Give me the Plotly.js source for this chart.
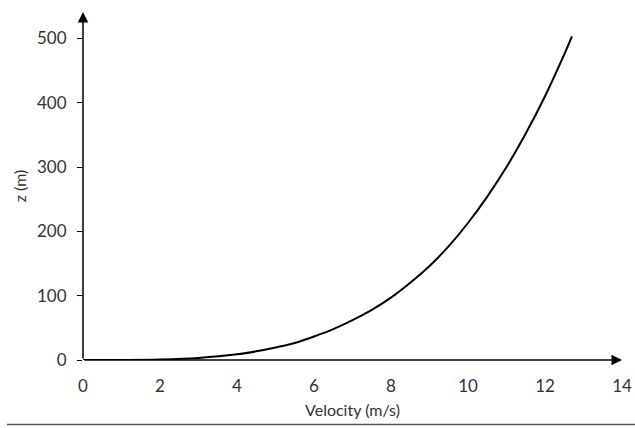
<!DOCTYPE html>
<html>
<head>
<meta charset="utf-8">
<script src="https://cdn.plot.ly/plotly-3.0.1.min.js"></script>
<style>html,body{margin:0;padding:0;background:#fff;}#chart{width:635px;height:428px;}</style>
</head>
<body>
<div id="chart"></div>
<script>
// Data
var velocity = [0, 1, 2, 3, 4, 4.5, 5, 5.5, 6, 6.5, 7, 7.5, 8, 8.5, 9, 9.5, 10, 10.5, 11, 11.5, 12, 12.5, 12.7];
var height = [0, 0.1, 0.8, 3.2, 8.8, 13.5, 19.5, 26.5, 36.5, 48, 62, 78, 97, 120, 146, 177, 213, 254, 300, 352, 410, 475, 503];
var xTicks = [0, 2, 4, 6, 8, 10, 12, 14];
var yTicks = [0, 100, 200, 300, 400, 500];
var xTitle = 'Velocity (m/s)';
var yTitle = 'z (m)';

var fontFam = 'Lato, "Open Sans", sans-serif';
var xMax = 14, yMax = 541;

var trace = {
  x: velocity, y: height, type: 'scatter', mode: 'lines',
  line: {color: '#000', width: 2, shape: 'spline', smoothing: 1},
  cliponaxis: false, hoverinfo: 'x+y'
};

var layout = {
  width: 635, height: 428,
  margin: {l: 83, r: 13, t: 12, b: 68},
  paper_bgcolor: '#fff', plot_bgcolor: '#fff',
  showlegend: false,
  font: {family: fontFam, size: 16, color: '#333'},
  xaxis: {
    range: [0, xMax], tickvals: xTicks, ticktext: xTicks.map(String),
    showgrid: false, zeroline: false, showline: false,
    ticks: 'outside', ticklen: 11, tickcolor: 'rgba(0,0,0,0)',
    tickfont: {family: fontFam, size: 17, color: '#333'},
    title: {text: xTitle, font: {family: fontFam, size: 16, color: '#333'}, standoff: 9},
    automargin: false, fixedrange: true
  },
  yaxis: {
    range: [0, yMax], tickvals: yTicks, ticktext: yTicks.map(String),
    showgrid: false, zeroline: false, showline: false,
    ticks: 'outside', ticklen: 5, tickwidth: 1, tickcolor: '#000',
    ticklabelstandoff: 7,
    tickfont: {family: fontFam, size: 17, color: '#333'},
    title: {text: yTitle, font: {family: fontFam, size: 16, color: '#333'}, standoff: 6},
    automargin: false, fixedrange: true
  },
  annotations: [
    {x: xMax, y: 0, ax: 0, ay: 0, xref: 'x', yref: 'y', axref: 'x', ayref: 'y',
     text: '', showarrow: true, arrowhead: 2, arrowsize: 1.4, arrowwidth: 1.5, arrowcolor: '#000'},
    {x: 0, y: yMax, ax: 0, ay: 0, xref: 'x', yref: 'y', axref: 'x', ayref: 'y',
     text: '', showarrow: true, arrowhead: 2, arrowsize: 1.4, arrowwidth: 1.5, arrowcolor: '#000'}
  ],
  shapes: [
    {type: 'line', xref: 'paper', yref: 'paper',
     x0: (7 - 83) / 539, x1: (635 - 83) / 539,
     y0: (360 - 424.5) / 348, y1: (360 - 424.5) / 348,
     line: {color: '#555', width: 1.5}}
  ]
};

Plotly.newPlot('chart', [trace], layout, {staticPlot: true, displayModeBar: false});
</script>
</body>
</html>
